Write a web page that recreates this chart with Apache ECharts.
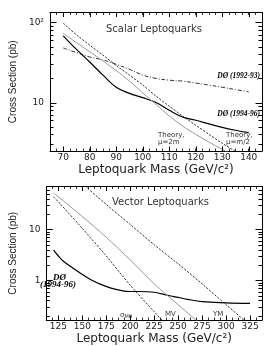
<!DOCTYPE html>
<html><head><meta charset="utf-8">
<script src="https://cdn.jsdelivr.net/npm/echarts@6/dist/echarts.min.js"></script>
<style>html,body{margin:0;padding:0;background:#fff}#c{width:276px;height:346px}</style>
</head><body><div id="c"></div>
<script>
// ---------- data ----------
// top panel: scalar leptoquarks
const massTop = [70,75,80,85,90,95,100,105,110,115,120,125,130,135,140];
const d0_9496 = [68,46,32,22,15.5,13,11.5,10,8,6.6,6.0,5.4,4.9,4.5,4.2];
const d0_9293 = [48,42,37,34,30,26,22,20,19,18.5,17.5,16.5,15.5,14.5,13.6];
const theoryHalf = [98,70,52,39,29,22,16.5,12,9,6.8,5.2,4.0,3.1,2.45,1.9];
const massTheoryTwo = [70,75,80,85,90,95,100,105,110,115,120,125,130,135];
const theoryTwo = [73,56,43,33,25,18.5,13.2,9.5,6.8,5.1,4.0,3.2,2.6,2.1];
const topXTicks = [70,80,90,100,110,120,130,140];
const topYMajor = [10,100];
const topYMinor = [3,4,5,6,7,8,9,20,30,40,50,60,70,80,90];

// bottom panel: vector leptoquarks
const massD0b = [120,125,130,140,150,160,170,180,190,200,210,225,240,250,260,275,300,325];
const d0b = [3.9,3.0,2.4,1.75,1.3,1.0,0.82,0.7,0.63,0.6,0.6,0.58,0.5,0.46,0.42,0.38,0.36,0.35];
const massMH = [120,125,150,175,200,225,240];
const sigMH = [44,35,10.5,3.0,0.8,0.24,0.12];
const massMV = [120,125,150,175,200,225,250,275];
const sigMV = [52,44,18,7,2.5,0.85,0.33,0.13];
const massYM = [150,175,200,225,250,275,300,325];
const sigYM = [80,31,12.5,5.0,2.1,0.85,0.33,0.13];
const botXTicks = [125,150,175,200,225,250,275,300,325];
const botYMajor = [1,10];
const botYMinor = [0.2,0.3,0.4,0.5,0.6,0.7,0.8,0.9,2,3,4,5,6,7,8,9,20,30,40,50,60];

// ---------- helpers ----------
const pair = (xs, ys) => xs.map((x, i) => [x, ys[i]]);
const FONT = 'DejaVu Sans';
const TXT = '#222';

const GRID_W = 227;
const TOP = {xMin:65, xMax:145, xStep:2.5, yMin:2.48, yMax:133, h:138.5};
const BOT = {xMin:112.5, xMax:337.5, xStep:6.25, yMin:0.165, yMax:70, h:139};

function isPow10(v){ const l = Math.log10(v); return Math.abs(l - Math.round(l)) < 1e-6; }

function xAxes(g, P, majors){
  const base = {type:'value', gridIndex:g, min:P.xMin, max:P.xMax, interval:P.xStep,
    splitLine:{show:false},
    axisLine:{lineStyle:{color:'#000', width:1}},
    axisTick:{inside:true, length:2.5, lineStyle:{color:'#000', width:0.8}}};
  return [
    Object.assign({}, base, {position:'bottom',
      name:'Leptoquark Mass (GeV/c²)', nameLocation:'middle', nameGap:13,
      nameTextStyle:{fontFamily:FONT, fontSize:12, color:TXT},
      axisLabel:{margin:2, fontFamily:FONT, fontSize:9, color:TXT,
        formatter: v => majors.some(m => Math.abs(m - v) < 1e-6) ? String(v) : ''}}),
    Object.assign({}, base, {position:'top', axisLabel:{show:false}})
  ];
}
function yAxes(g, P){
  const base = {type:'log', logBase:10, gridIndex:g, min:P.yMin, max:P.yMax,
    splitLine:{show:false}, axisTick:{show:false},
    axisLine:{show:true, lineStyle:{color:'#000', width:1}}};
  return [
    Object.assign({}, base, {position:'left',
      name:'Cross Section (pb)', nameLocation:'middle', nameGap:24,
      nameTextStyle:{fontFamily:'Liberation Sans', fontSize:10, color:TXT},
      axisLabel:{margin:6, fontFamily:FONT, fontSize:9, color:TXT,
        showMinLabel:false, showMaxLabel:false,
        formatter: v => {
          if (!isPow10(v)) return '';
          const e = Math.round(Math.log10(v));
          if (e === 2) return '10²';
          if (e === 1) return '10';
          if (e === 0) return '1';
          return String(v);
        }}}),
    Object.assign({}, base, {position:'right', axisLabel:{show:false}})
  ];
}
function line(g, name, data, color, width, type, smooth){
  return {type:'line', name:name, xAxisIndex:g*2, yAxisIndex:g*2, data:data,
    showSymbol:false, smooth:smooth,
    lineStyle:{color:color, width:width, type:type}};
}

const DOT = [2.2,1.4];
const DASHDOT = [4,1.8,1,1.8];
const GRAY = '#9a9a9a';

const labelFont = {fontFamily:FONT, fontSize:10, fill:'#333'};
const d0Font = {fontFamily:'Liberation Serif', fontSize:7.5, fontWeight:'bold', fontStyle:'italic', fill:'#000'};
const d0FontB = {fontFamily:'Liberation Serif', fontSize:9, fontWeight:'bold', fontStyle:'italic', fill:'#000'};
const smallFont = {fontFamily:FONT, fontSize:7, fill:'#333'};

const textGraphics = [
  {type:'text', left:106, top:24, style:Object.assign({text:'Scalar Leptoquarks'}, labelFont)},
  {type:'text', right:16, top:72, style:Object.assign({text:'DØ (1992-93)'}, d0Font)},
  {type:'text', right:16, top:110, style:Object.assign({text:'DØ (1994-96)'}, d0Font)},
  {type:'text', left:158, top:132, style:Object.assign({text:'Theory,\nμ=2m', lineHeight:7}, smallFont)},
  {type:'text', left:226, top:132, style:Object.assign({text:'Theory,\nμ=m/2', lineHeight:7}, smallFont)},
  {type:'text', left:112, top:197, style:Object.assign({text:'Vector Leptoquarks'}, labelFont)},
  {type:'text', left:53, top:273, style:Object.assign({text:'DØ'}, d0FontB)},
  {type:'text', left:40, top:280, style:Object.assign({text:'(1994-96)'}, d0FontB)},
  {type:'text', left:120, top:312, style:{text:'σ{s|MH}', rich:{s:{fontSize:5, padding:[3,0,0,0], fontFamily:FONT}}, fontFamily:FONT, fontSize:7, fill:'#333'}},
  {type:'text', left:165, top:311, style:Object.assign({text:'MV'}, smallFont)},
  {type:'text', left:213, top:311, style:Object.assign({text:'YM'}, smallFont)}
];

const option = {
  animation:false,
  backgroundColor:'#fff',
  grid:[
    {left:35, top:12.5, width:GRID_W, height:TOP.h},
    {left:35, top:186.5, width:GRID_W, height:BOT.h}
  ],
  xAxis: xAxes(0, TOP, topXTicks).concat(xAxes(1, BOT, botXTicks)),
  yAxis: yAxes(0, TOP).concat(yAxes(1, BOT)),
  series:[
    line(0, 'DØ (1994-96)', pair(massTop, d0_9496), '#000', 1.2, 'solid', 0.4),
    line(0, 'DØ (1992-93)', pair(massTop, d0_9293), '#000', 0.8, DASHDOT, 0.4),
    line(0, 'Theory μ=m/2', pair(massTop, theoryHalf), '#000', 0.8, DOT, 0.3),
    line(0, 'Theory μ=2m', pair(massTheoryTwo, theoryTwo), GRAY, 1, 'solid', 0.3),
    line(1, 'DØ (1994-96)', pair(massD0b, d0b), '#000', 1.2, 'solid', 0.4),
    line(1, 'σMH', pair(massMH, sigMH), '#000', 0.8, DOT, 0.3),
    line(1, 'MV', pair(massMV, sigMV), GRAY, 1, 'solid', 0.3),
    line(1, 'YM', pair(massYM, sigYM), '#000', 0.8, DOT, 0.3)
  ],
  graphic: textGraphics
};
const chart = echarts.init(document.getElementById('c'), null, {renderer:'canvas'});
chart.setOption(option);

// tick marks: positions obtained from the axes' own scales via convertToPixel
function tickGraphics(g, P, yMajor, yMinor, xMajor){
  const finder = {xAxisIndex:g*2, yAxisIndex:g*2};
  const px = (x, y) => chart.convertToPixel(finder, [x, y]);
  const out = [];
  const seg = (x1, y1, x2, y2) => out.push({type:'line', silent:true, z:100,
    shape:{x1:x1, y1:y1, x2:x2, y2:y2}, style:{stroke:'#000', lineWidth:1}});
  const yTick = (v, len) => {
    const l = px(P.xMin, v), r = px(P.xMax, v);
    const yy = Math.round(l[1]) + 0.5;
    seg(l[0], yy, l[0] + len, yy);
    seg(r[0], yy, r[0] - len, yy);
  };
  yMinor.forEach(v => yTick(v, 3.5));
  yMajor.forEach(v => yTick(v, 6.5));
  xMajor.forEach(v => {
    const b = px(v, P.yMin), t = px(v, P.yMax);
    const xx = Math.round(b[0]) + 0.5;
    seg(xx, b[1], xx, b[1] - 4.5);
    seg(xx, t[1], xx, t[1] + 4.5);
  });
  return out;
}
const ticks = tickGraphics(0, TOP, topYMajor, topYMinor, topXTicks)
  .concat(tickGraphics(1, BOT, botYMajor, botYMinor, botXTicks));
chart.setOption({graphic: textGraphics.concat(ticks)});
</script></body></html>
